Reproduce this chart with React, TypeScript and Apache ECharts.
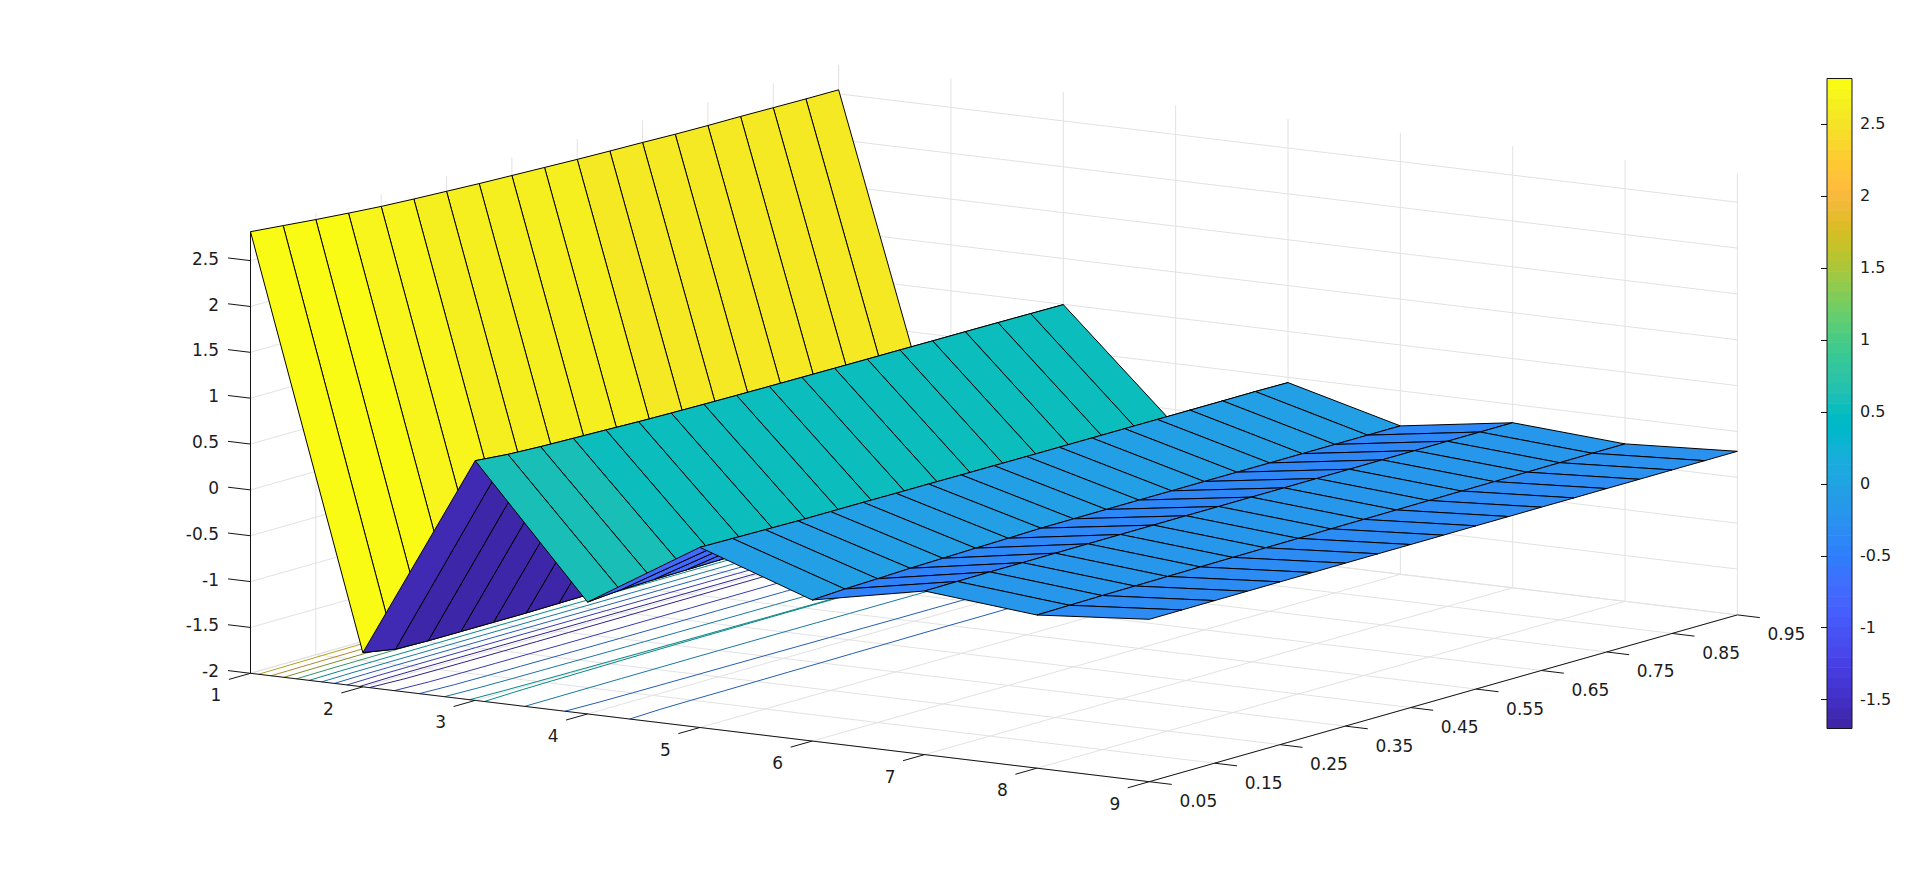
import React, { useEffect, useRef } from "react";
import * as echarts from "echarts";

// ---- axis ticks ----
const xValues = [1, 2, 3, 4, 5, 6, 7, 8, 9];
const yValues = [0.05, 0.1, 0.15, 0.2, 0.25, 0.3, 0.35, 0.4, 0.45, 0.5, 0.55, 0.6, 0.65, 0.7, 0.75, 0.8, 0.85, 0.9, 0.95];
const xTicks = [1, 2, 3, 4, 5, 6, 7, 8, 9];
const yTicks = [0.05, 0.15, 0.25, 0.35, 0.45, 0.55, 0.65, 0.75, 0.85, 0.95];
const yTickLabels = ["0.05", "0.15", "0.25", "0.35", "0.45", "0.55", "0.65", "0.75", "0.85", "0.95"];
const zTicks = [-2, -1.5, -1, -0.5, 0, 0.5, 1, 1.5, 2, 2.5];
const zTickLabels = ["-2", "-1.5", "-1", "-0.5", "0", "0.5", "1", "1.5", "2", "2.5"];
const colorbarTicks = [-1.5, -1, -0.5, 0, 0.5, 1, 1.5, 2, 2.5];
const contourLevels = [-1.5, -1, -0.5, 0, 0.5, 1, 1.5, 2, 2.5];
const zFloor = -2;
const zTop = 2.816;
const colorMin = -1.7;
const colorMax = 2.816;

// ---- surface heights, one list per x, running along y ----
const zAtX1 = [2.816, 2.781, 2.746, 2.715, 2.687, 2.667, 2.65, 2.633, 2.62, 2.607, 2.594, 2.584, 2.576, 2.565, 2.559, 2.557, 2.551, 2.546, 2.544];
const zAtX2 = [-1.627, -1.69, -1.7, -1.7, -1.7, -1.7, -1.695, -1.69, -1.685, -1.68, -1.675, -1.67, -1.665, -1.66, -1.655, -1.65, -1.645, -1.64, -1.635];
const zAtX3 = [0.614, 0.582, 0.565, 0.555, 0.545, 0.534, 0.527, 0.522, 0.518, 0.515, 0.513, 0.511, 0.509, 0.508, 0.506, 0.505, 0.503, 0.5, 0.497];
const zAtX4 = [-0.78, -0.75, -0.74, -0.735, -0.73, -0.725, -0.72, -0.715, -0.71, -0.705, -0.7, -0.7, -0.695, -0.695, -0.69, -0.69, -0.685, -0.685, -0.68];
const zAtX5 = [-0.035, -0.04, -0.045, -0.05, -0.05, -0.05, -0.052, -0.052, -0.054, -0.054, -0.055, -0.055, -0.055, -0.055, -0.055, -0.055, -0.055, -0.054, -0.058];
const zAtX6 = [-0.462, -0.443, -0.432, -0.419, -0.411, -0.402, -0.395, -0.386, -0.385, -0.384, -0.383, -0.383, -0.382, -0.382, -0.382, -0.382, -0.382, -0.382, -0.382];
const zAtX7 = [-0.216, -0.213, -0.21, -0.21, -0.208, -0.207, -0.206, -0.205, -0.204, -0.204, -0.203, -0.203, -0.202, -0.202, -0.201, -0.201, -0.2, -0.2, -0.2];
const zAtX8 = [-0.33, -0.325, -0.32, -0.317, -0.314, -0.311, -0.308, -0.305, -0.303, -0.3, -0.298, -0.296, -0.294, -0.292, -0.29, -0.288, -0.286, -0.284, -0.283];
const zAtX9 = [-0.229, -0.228, -0.227, -0.226, -0.225, -0.224, -0.223, -0.222, -0.222, -0.221, -0.22, -0.22, -0.219, -0.219, -0.218, -0.218, -0.217, -0.217, -0.216];
const surfaceRows = [zAtX1, zAtX2, zAtX3, zAtX4, zAtX5, zAtX6, zAtX7, zAtX8, zAtX9];

// ---- parula colormap ----
const parula = [
  [0.2422, 0.1504, 0.6603], [0.2504, 0.165, 0.7076], [0.2578, 0.1818, 0.7511], [0.2647, 0.1978, 0.7952],
  [0.2706, 0.2147, 0.8364], [0.2751, 0.2342, 0.871], [0.2783, 0.2559, 0.8991], [0.2803, 0.2782, 0.9221],
  [0.2813, 0.3006, 0.9414], [0.281, 0.3228, 0.9579], [0.2795, 0.3447, 0.9717], [0.276, 0.3667, 0.9829],
  [0.2699, 0.3892, 0.9906], [0.2602, 0.4123, 0.9952], [0.244, 0.4358, 0.9988], [0.2206, 0.4603, 0.9973],
  [0.1963, 0.4847, 0.9892], [0.1834, 0.5074, 0.9798], [0.1786, 0.5289, 0.9682], [0.1764, 0.5499, 0.952],
  [0.1687, 0.5703, 0.9359], [0.154, 0.5902, 0.9218], [0.146, 0.6091, 0.9079], [0.138, 0.6276, 0.8973],
  [0.1248, 0.6459, 0.8883], [0.1113, 0.6635, 0.8763], [0.0952, 0.6798, 0.8598], [0.0689, 0.6948, 0.8394],
  [0.0297, 0.7082, 0.8163], [0.0036, 0.7203, 0.7917], [0.0067, 0.7312, 0.766], [0.0433, 0.7411, 0.7394],
  [0.0964, 0.75, 0.712], [0.1408, 0.7584, 0.6842], [0.1717, 0.767, 0.6554], [0.1938, 0.7758, 0.6251],
  [0.2161, 0.7843, 0.5923], [0.247, 0.7918, 0.5567], [0.2906, 0.7973, 0.5188], [0.3406, 0.8008, 0.4789],
  [0.3909, 0.8029, 0.4354], [0.4456, 0.8024, 0.3909], [0.5044, 0.7993, 0.348], [0.5616, 0.7942, 0.3045],
  [0.6174, 0.7876, 0.2612], [0.672, 0.7793, 0.2227], [0.7242, 0.7698, 0.191], [0.7738, 0.7598, 0.1646],
  [0.8203, 0.7498, 0.1535], [0.8634, 0.7406, 0.1596], [0.9035, 0.733, 0.1774], [0.9393, 0.7288, 0.21],
  [0.9728, 0.7298, 0.2394], [0.9956, 0.7434, 0.2371], [0.997, 0.7659, 0.2199], [0.9952, 0.7861, 0.1991],
  [0.9892, 0.8137, 0.1885], [0.9786, 0.8386, 0.1766], [0.9676, 0.8639, 0.1643], [0.961, 0.889, 0.1537],
  [0.9597, 0.9135, 0.1423], [0.9628, 0.9373, 0.1265], [0.9691, 0.9606, 0.1064], [0.9769, 0.9839, 0.0805],
];

// ---- view of the 3D box (orthographic camera) ----
const ORIGIN = [250.5, 673.3];
const PX_PER_X = [112.35, 13.55];
const PX_ACROSS_Y = [588.1, -166.8];
const PX_PER_Z = 91.7;
const AXIS_COLOR = "#141414";
const TEXT_COLOR = "#1c1c1c";
const GRID_COLOR = "#e2e2e2";
const CONTOUR_SHADE = 0.72;
const FONT = '"DejaVu Sans"';
const LABEL_SIZE = 17;
const COLORBAR_LABEL_SIZE = 16;

function project(x: number, y: number, z: number): number[] {
  const u = x - 1;
  const v = (y - 0.05) / 0.9;
  return [
    ORIGIN[0] + u * PX_PER_X[0] + v * PX_ACROSS_Y[0],
    ORIGIN[1] + u * PX_PER_X[1] + v * PX_ACROSS_Y[1] - (z - zFloor) * PX_PER_Z,
  ];
}

function colorOf(value: number, shade = 1): string {
  const t = (value - colorMin) / (colorMax - colorMin);
  const idx = Math.max(0, Math.min(parula.length - 1, Math.floor(t * parula.length)));
  const c = parula[idx];
  return `rgb(${Math.round(c[0] * 255 * shade)},${Math.round(c[1] * 255 * shade)},${Math.round(c[2] * 255 * shade)})`;
}

type Seg = { a: number[]; b: number[]; color: string; width: number };
type Label = { text: string; x: number; y: number; align: string };

function segSeries(name: string, segs: Seg[], z: number) {
  return {
    type: "custom",
    name,
    coordinateSystem: "none",
    silent: true,
    z,
    data: segs.map((_, i) => i),
    renderItem: (params: any) => {
      const s = segs[params.dataIndex];
      return {
        type: "line",
        silent: true,
        shape: { x1: s.a[0], y1: s.a[1], x2: s.b[0], y2: s.b[1] },
        style: { stroke: s.color, lineWidth: s.width, fill: "none" },
      };
    },
  };
}

function buildGrid(): Seg[] {
  const out: Seg[] = [];
  const add = (p: number[], q: number[]) =>
    out.push({ a: project(p[0], p[1], p[2]), b: project(q[0], q[1], q[2]), color: GRID_COLOR, width: 1 });
  const y0 = yValues[0];
  const y1 = yValues[yValues.length - 1];
  const x0 = xValues[0];
  const x1 = xValues[xValues.length - 1];
  for (const x of xTicks) {
    add([x, y1, zFloor], [x, y1, zTop]);
    add([x, y0, zFloor], [x, y1, zFloor]);
  }
  for (const y of yTicks) {
    add([x0, y, zFloor], [x0, y, zTop]);
    add([x0, y, zFloor], [x1, y, zFloor]);
  }
  for (const z of zTicks) {
    add([x0, y0, z], [x0, y1, z]);
    add([x0, y1, z], [x1, y1, z]);
  }
  return out;
}

function buildContours(): Seg[] {
  const out: Seg[] = [];
  for (const level of contourLevels) {
    for (let k = 0; k < xValues.length - 1; k++) {
      for (let j = 0; j < yValues.length - 1; j++) {
        const corners = [
          [xValues[k], yValues[j], surfaceRows[k][j]],
          [xValues[k + 1], yValues[j], surfaceRows[k + 1][j]],
          [xValues[k + 1], yValues[j + 1], surfaceRows[k + 1][j + 1]],
          [xValues[k], yValues[j + 1], surfaceRows[k][j + 1]],
        ];
        const hits: number[][] = [];
        for (let e = 0; e < 4; e++) {
          const p = corners[e];
          const q = corners[(e + 1) % 4];
          if ((p[2] - level) * (q[2] - level) < 0) {
            const f = (level - p[2]) / (q[2] - p[2]);
            hits.push(project(p[0] + f * (q[0] - p[0]), p[1] + f * (q[1] - p[1]), zFloor));
          }
        }
        if (hits.length === 2) out.push({ a: hits[0], b: hits[1], color: colorOf(level, CONTOUR_SHADE), width: 1 });
      }
    }
  }
  return out;
}

function buildAxes(): Seg[] {
  const out: Seg[] = [];
  const y0 = yValues[0];
  const y1 = yValues[yValues.length - 1];
  const x0 = xValues[0];
  const x1 = xValues[xValues.length - 1];
  const add = (a: number[], b: number[]) => out.push({ a, b, color: AXIS_COLOR, width: 1 });
  add(project(x0, y0, zFloor), project(x0, y0, zTop));
  add(project(x0, y0, zFloor), project(x1, y0, zFloor));
  add(project(x1, y0, zFloor), project(x1, y1, zFloor));
  for (const z of zTicks) {
    add(project(x0, y0, z), project(x0 - 0.2, y0, z));
  }
  for (const x of xTicks) {
    add(project(x, y0, zFloor), project(x, y0 - 0.033, zFloor));
  }
  for (const y of yTicks) {
    add(project(x1, y, zFloor), project(x1 + 0.2, y, zFloor));
  }
  return out;
}

function buildLabels(): Label[] {
  const out: Label[] = [];
  zTicks.forEach((z, i) => {
    const p = project(1, 0.05, z);
    out.push({ text: zTickLabels[i], x: p[0] - 31.5, y: p[1] - 2, align: "right" });
  });
  xTicks.forEach((x) => {
    const p = project(x, 0.05, zFloor);
    out.push({ text: String(x), x: p[0] - 34.5, y: p[1] + 22, align: "center" });
  });
  yTicks.forEach((y, i) => {
    const p = project(9, y, zFloor);
    out.push({ text: yTickLabels[i], x: p[0] + 49, y: p[1] + 19.5, align: "center" });
  });
  return out;
}

function surfaceSeries() {
  const cells: { pts: number[][]; color: string }[] = [];
  // back to front: low x first, and far y first within a strip
  for (let k = 0; k < xValues.length - 1; k++) {
    for (let j = yValues.length - 2; j >= 0; j--) {
      cells.push({
        pts: [
          project(xValues[k], yValues[j], surfaceRows[k][j]),
          project(xValues[k + 1], yValues[j], surfaceRows[k + 1][j]),
          project(xValues[k + 1], yValues[j + 1], surfaceRows[k + 1][j + 1]),
          project(xValues[k], yValues[j + 1], surfaceRows[k][j + 1]),
        ],
        color: colorOf(surfaceRows[k][j]),
      });
    }
  }
  return {
    type: "custom",
    name: "surface",
    coordinateSystem: "none",
    silent: true,
    z: 5,
    data: cells.map((_, i) => i),
    renderItem: (params: any) => {
      const c = cells[params.dataIndex];
      return {
        type: "polygon",
        silent: true,
        shape: { points: c.pts },
        style: { fill: c.color, stroke: "#000000", lineWidth: 1, lineJoin: "round" },
      };
    },
  };
}

function labelSeries() {
  const labels = buildLabels();
  return {
    type: "custom",
    name: "tickLabels",
    coordinateSystem: "none",
    silent: true,
    z: 6,
    data: labels.map((_, i) => i),
    renderItem: (params: any) => {
      const l = labels[params.dataIndex];
      return {
        type: "text",
        silent: true,
        x: l.x,
        y: l.y,
        style: {
          text: l.text,
          fill: TEXT_COLOR,
          font: `${LABEL_SIZE}px ${FONT}`,
          align: l.align,
          verticalAlign: "middle",
        },
      };
    },
  };
}

function colorbarSeries() {
  const step = (colorMax - colorMin) / parula.length;
  const bands = parula.map((_, i) => [0, colorMin + i * step, 1, colorMin + (i + 1) * step]);
  return [
    {
      type: "custom",
      name: "colorbar",
      coordinateSystem: "cartesian2d",
      silent: true,
      z: 7,
      encode: { x: [0, 2], y: [1, 3] },
      data: bands,
      renderItem: (params: any, api: any) => {
        const a = api.coord([api.value(0), api.value(1)]);
        const b = api.coord([api.value(2), api.value(3)]);
        const c = parula[params.dataIndex];
        const fill = `rgb(${Math.round(c[0] * 255)},${Math.round(c[1] * 255)},${Math.round(c[2] * 255)})`;
        return {
          type: "rect",
          silent: true,
          shape: { x: a[0], y: b[1] - 0.3, width: b[0] - a[0], height: a[1] - b[1] + 0.6 },
          style: { fill },
        };
      },
    },
    {
      type: "custom",
      name: "colorbarBox",
      coordinateSystem: "cartesian2d",
      silent: true,
      z: 8,
      encode: { x: [0, 2], y: [1, 3] },
      data: [[0, colorMin, 1, colorMax]],
      renderItem: (_: any, api: any) => {
        const a = api.coord([api.value(0), api.value(1)]);
        const b = api.coord([api.value(2), api.value(3)]);
        return {
          type: "rect",
          silent: true,
          shape: { x: a[0], y: b[1], width: b[0] - a[0], height: a[1] - b[1] },
          style: { fill: "none", stroke: AXIS_COLOR, lineWidth: 1 },
        };
      },
    },
  ];
}

export default function App() {
  const ref = useRef<HTMLDivElement>(null);
  useEffect(() => {
    const chart = echarts.init(ref.current as HTMLDivElement, undefined, { renderer: "svg" });
    chart.setOption({
      animation: false,
      backgroundColor: "#ffffff",
      grid: [{ left: 1827, top: 78.5, width: 25, height: 650 }],
      xAxis: [{ type: "value", min: 0, max: 1, show: false }],
      yAxis: [
        {
          type: "value",
          min: colorMin,
          max: colorMax,
          position: "right",
          z: 10,
          axisLine: { show: false },
          splitLine: { show: false },
          axisTick: { show: true, inside: true, length: 6, customValues: colorbarTicks, lineStyle: { color: AXIS_COLOR, width: 1 } },
          axisLabel: {
            show: true,
            margin: 8,
            padding: [3, 0, 0, 0],
            customValues: colorbarTicks,
            color: TEXT_COLOR,
            fontFamily: "DejaVu Sans",
            fontSize: COLORBAR_LABEL_SIZE,
            formatter: (v: number) => String(v),
          },
        },
      ],
      series: [
        segSeries("grid3d", buildGrid(), 2),
        segSeries("contours", buildContours(), 3),
        segSeries("axes3d", buildAxes(), 4),
        surfaceSeries(),
        labelSeries(),
        ...colorbarSeries(),
      ],
    });
    return () => chart.dispose();
  }, []);
  return <div ref={ref} style={{ position: "fixed", left: 0, top: 0, width: 1920, height: 879 }} />;
}
